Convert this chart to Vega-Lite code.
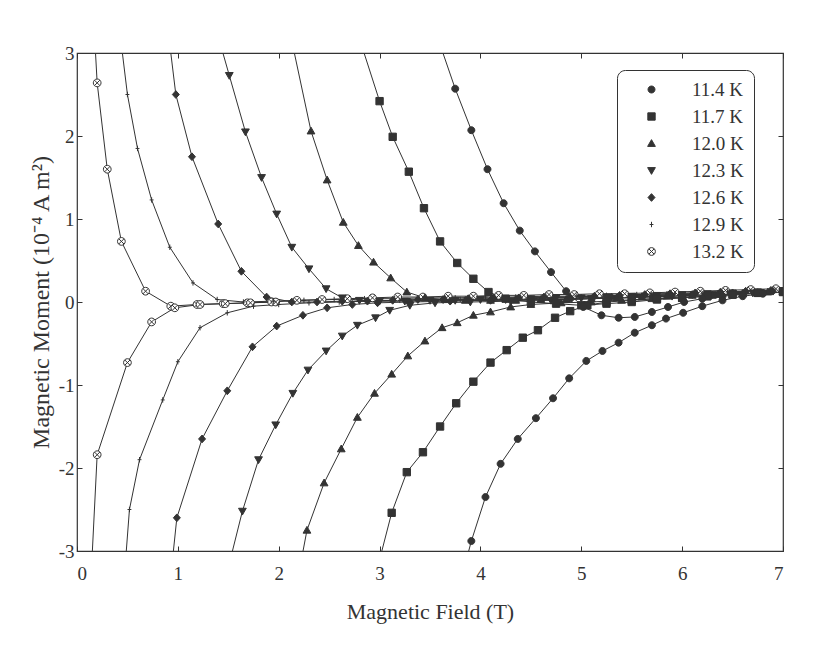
{
  "$schema": "https://vega.github.io/schema/vega-lite/v6.json",
  "width": 706,
  "height": 498,
  "autosize": {"type": "none"},
  "padding": {"left": 77, "top": 53, "right": 33, "bottom": 99},
  "background": "white",
  "config": {
    "view": {"stroke": "#333", "strokeWidth": 1.2},
    "font": "Liberation Serif",
    "axis": {"labelFont": "Liberation Serif", "titleFont": "Liberation Serif", "labelColor": "#333", "titleColor": "#333", "tickColor": "#333", "titleFontWeight": "normal", "grid": false, "domain": false},
    "legend": {"orient": "none", "legendX": 540, "legendY": 17, "labelFont": "Liberation Serif", "labelFontSize": 19, "labelColor": "#333",
               "symbolSize": 60, "symbolOffset": 15, "labelOffset": 31, "rowPadding": 7,
               "padding": 10, "strokeColor": "#333", "cornerRadius": 8, "fillColor": "white",
               "symbolStrokeColor": "#333", "symbolStrokeWidth": 1}
  },
  "data": {"values": [
    {"T":"13.2 K","branch":"down","B":0.17,"M":3.3},{"T":"13.2 K","branch":"down","B":0.2,"M":2.64},{"T":"13.2 K","branch":"down","B":0.3,"M":1.6},{"T":"13.2 K","branch":"down","B":0.44,"M":0.73},{"T":"13.2 K","branch":"down","B":0.68,"M":0.13},{"T":"13.2 K","branch":"down","B":0.93,"M":-0.05},{"T":"13.2 K","branch":"down","B":1.19,"M":-0.03},{"T":"13.2 K","branch":"down","B":1.45,"M":-0.02},{"T":"13.2 K","branch":"down","B":1.69,"M":-0.01},{"T":"13.2 K","branch":"down","B":1.93,"M":0.0},{"T":"13.2 K","branch":"down","B":2.18,"M":0.02},{"T":"13.2 K","branch":"down","B":2.43,"M":0.03},{"T":"13.2 K","branch":"down","B":2.68,"M":0.04},{"T":"13.2 K","branch":"down","B":2.93,"M":0.05},{"T":"13.2 K","branch":"down","B":3.18,"M":0.06},{"T":"13.2 K","branch":"down","B":3.43,"M":0.06},{"T":"13.2 K","branch":"down","B":3.68,"M":0.07},{"T":"13.2 K","branch":"down","B":3.93,"M":0.07},{"T":"13.2 K","branch":"down","B":4.18,"M":0.08},{"T":"13.2 K","branch":"down","B":4.43,"M":0.08},{"T":"13.2 K","branch":"down","B":4.68,"M":0.09},{"T":"13.2 K","branch":"down","B":4.93,"M":0.09},{"T":"13.2 K","branch":"down","B":5.18,"M":0.1},{"T":"13.2 K","branch":"down","B":5.43,"M":0.1},{"T":"13.2 K","branch":"down","B":5.68,"M":0.11},{"T":"13.2 K","branch":"down","B":5.93,"M":0.12},{"T":"13.2 K","branch":"down","B":6.18,"M":0.13},{"T":"13.2 K","branch":"down","B":6.43,"M":0.14},{"T":"13.2 K","branch":"down","B":6.68,"M":0.15},{"T":"13.2 K","branch":"down","B":6.93,"M":0.16},
    {"T":"13.2 K","branch":"up","B":0.14,"M":-3.3},{"T":"13.2 K","branch":"up","B":0.2,"M":-1.84},{"T":"13.2 K","branch":"up","B":0.5,"M":-0.73},{"T":"13.2 K","branch":"up","B":0.74,"M":-0.24},{"T":"13.2 K","branch":"up","B":0.97,"M":-0.07},{"T":"13.2 K","branch":"up","B":1.22,"M":-0.03},{"T":"13.2 K","branch":"up","B":1.47,"M":-0.02},{"T":"13.2 K","branch":"up","B":1.72,"M":-0.01},{"T":"13.2 K","branch":"up","B":1.97,"M":0.0},
    {"T":"12.9 K","branch":"down","B":0.42,"M":3.3},{"T":"12.9 K","branch":"down","B":0.5,"M":2.5},{"T":"12.9 K","branch":"down","B":0.6,"M":1.85},{"T":"12.9 K","branch":"down","B":0.74,"M":1.23},{"T":"12.9 K","branch":"down","B":0.92,"M":0.66},{"T":"12.9 K","branch":"down","B":1.15,"M":0.23},{"T":"12.9 K","branch":"down","B":1.39,"M":0.03},{"T":"12.9 K","branch":"down","B":1.65,"M":0.0},{"T":"12.9 K","branch":"down","B":1.95,"M":0.01},{"T":"12.9 K","branch":"down","B":2.25,"M":0.02},{"T":"12.9 K","branch":"down","B":2.55,"M":0.03},{"T":"12.9 K","branch":"down","B":2.85,"M":0.04},{"T":"12.9 K","branch":"down","B":3.15,"M":0.04},{"T":"12.9 K","branch":"down","B":3.45,"M":0.05},{"T":"12.9 K","branch":"down","B":3.75,"M":0.05},{"T":"12.9 K","branch":"down","B":4.05,"M":0.06},{"T":"12.9 K","branch":"down","B":4.35,"M":0.06},{"T":"12.9 K","branch":"down","B":4.65,"M":0.07},{"T":"12.9 K","branch":"down","B":4.95,"M":0.07},{"T":"12.9 K","branch":"down","B":5.25,"M":0.08},{"T":"12.9 K","branch":"down","B":5.55,"M":0.09},{"T":"12.9 K","branch":"down","B":5.85,"M":0.1},{"T":"12.9 K","branch":"down","B":6.15,"M":0.11},{"T":"12.9 K","branch":"down","B":6.45,"M":0.12},{"T":"12.9 K","branch":"down","B":6.75,"M":0.13},{"T":"12.9 K","branch":"down","B":7.0,"M":0.14},
    {"T":"12.9 K","branch":"up","B":0.47,"M":-3.3},{"T":"12.9 K","branch":"up","B":0.52,"M":-2.5},{"T":"12.9 K","branch":"up","B":0.62,"M":-1.9},{"T":"12.9 K","branch":"up","B":0.85,"M":-1.18},{"T":"12.9 K","branch":"up","B":1.0,"M":-0.72},{"T":"12.9 K","branch":"up","B":1.22,"M":-0.31},{"T":"12.9 K","branch":"up","B":1.49,"M":-0.13},{"T":"12.9 K","branch":"up","B":1.75,"M":-0.05},{"T":"12.9 K","branch":"up","B":2.0,"M":-0.03},{"T":"12.9 K","branch":"up","B":2.3,"M":-0.01},{"T":"12.9 K","branch":"up","B":2.6,"M":0.0},{"T":"12.9 K","branch":"up","B":3.2,"M":0.02},{"T":"12.9 K","branch":"up","B":3.8,"M":0.03},{"T":"12.9 K","branch":"up","B":4.4,"M":0.05},{"T":"12.9 K","branch":"up","B":5.0,"M":0.06},{"T":"12.9 K","branch":"up","B":5.6,"M":0.08},{"T":"12.9 K","branch":"up","B":6.2,"M":0.1},{"T":"12.9 K","branch":"up","B":6.8,"M":0.12},{"T":"12.9 K","branch":"up","B":7.0,"M":0.13},
    {"T":"12.6 K","branch":"down","B":0.9,"M":3.3},{"T":"12.6 K","branch":"down","B":0.98,"M":2.5},{"T":"12.6 K","branch":"down","B":1.14,"M":1.75},{"T":"12.6 K","branch":"down","B":1.4,"M":0.94},{"T":"12.6 K","branch":"down","B":1.63,"M":0.37},{"T":"12.6 K","branch":"down","B":1.88,"M":0.06},{"T":"12.6 K","branch":"down","B":2.13,"M":0.0},{"T":"12.6 K","branch":"down","B":2.38,"M":0.0},{"T":"12.6 K","branch":"down","B":2.63,"M":0.01},{"T":"12.6 K","branch":"down","B":2.88,"M":0.01},{"T":"12.6 K","branch":"down","B":3.13,"M":0.02},{"T":"12.6 K","branch":"down","B":3.38,"M":0.03},{"T":"12.6 K","branch":"down","B":3.63,"M":0.03},{"T":"12.6 K","branch":"down","B":3.88,"M":0.04},{"T":"12.6 K","branch":"down","B":4.13,"M":0.05},{"T":"12.6 K","branch":"down","B":4.38,"M":0.05},{"T":"12.6 K","branch":"down","B":4.63,"M":0.06},{"T":"12.6 K","branch":"down","B":4.88,"M":0.06},{"T":"12.6 K","branch":"down","B":5.13,"M":0.07},{"T":"12.6 K","branch":"down","B":5.38,"M":0.08},{"T":"12.6 K","branch":"down","B":5.63,"M":0.09},{"T":"12.6 K","branch":"down","B":5.88,"M":0.1},{"T":"12.6 K","branch":"down","B":6.13,"M":0.11},{"T":"12.6 K","branch":"down","B":6.38,"M":0.12},{"T":"12.6 K","branch":"down","B":6.63,"M":0.13},{"T":"12.6 K","branch":"down","B":6.88,"M":0.14},
    {"T":"12.6 K","branch":"up","B":0.93,"M":-3.3},{"T":"12.6 K","branch":"up","B":0.99,"M":-2.6},{"T":"12.6 K","branch":"up","B":1.24,"M":-1.65},{"T":"12.6 K","branch":"up","B":1.49,"M":-1.07},{"T":"12.6 K","branch":"up","B":1.74,"M":-0.54},{"T":"12.6 K","branch":"up","B":1.98,"M":-0.29},{"T":"12.6 K","branch":"up","B":2.24,"M":-0.16},{"T":"12.6 K","branch":"up","B":2.48,"M":-0.07},{"T":"12.6 K","branch":"up","B":2.73,"M":-0.03},{"T":"12.6 K","branch":"up","B":2.98,"M":-0.01},{"T":"12.6 K","branch":"up","B":3.3,"M":0.0},{"T":"12.6 K","branch":"up","B":3.7,"M":0.01},{"T":"12.6 K","branch":"up","B":4.1,"M":0.02},{"T":"12.6 K","branch":"up","B":4.5,"M":0.03},{"T":"12.6 K","branch":"up","B":4.9,"M":0.04},{"T":"12.6 K","branch":"up","B":5.3,"M":0.06},{"T":"12.6 K","branch":"up","B":5.7,"M":0.07},{"T":"12.6 K","branch":"up","B":6.1,"M":0.09},{"T":"12.6 K","branch":"up","B":6.5,"M":0.11},{"T":"12.6 K","branch":"up","B":6.9,"M":0.13},
    {"T":"12.3 K","branch":"down","B":1.4,"M":3.2},{"T":"12.3 K","branch":"down","B":1.51,"M":2.73},{"T":"12.3 K","branch":"down","B":1.67,"M":2.05},{"T":"12.3 K","branch":"down","B":1.83,"M":1.5},{"T":"12.3 K","branch":"down","B":1.98,"M":1.06},{"T":"12.3 K","branch":"down","B":2.13,"M":0.66},{"T":"12.3 K","branch":"down","B":2.3,"M":0.4},{"T":"12.3 K","branch":"down","B":2.47,"M":0.16},{"T":"12.3 K","branch":"down","B":2.63,"M":0.05},{"T":"12.3 K","branch":"down","B":2.8,"M":0.02},{"T":"12.3 K","branch":"down","B":3.0,"M":0.01},{"T":"12.3 K","branch":"down","B":3.25,"M":0.01},{"T":"12.3 K","branch":"down","B":3.5,"M":0.02},{"T":"12.3 K","branch":"down","B":3.75,"M":0.02},{"T":"12.3 K","branch":"down","B":4.0,"M":0.03},{"T":"12.3 K","branch":"down","B":4.25,"M":0.03},{"T":"12.3 K","branch":"down","B":4.5,"M":0.04},{"T":"12.3 K","branch":"down","B":4.75,"M":0.05},{"T":"12.3 K","branch":"down","B":5.0,"M":0.05},{"T":"12.3 K","branch":"down","B":5.25,"M":0.06},{"T":"12.3 K","branch":"down","B":5.5,"M":0.07},{"T":"12.3 K","branch":"down","B":5.75,"M":0.08},{"T":"12.3 K","branch":"down","B":6.0,"M":0.09},{"T":"12.3 K","branch":"down","B":6.25,"M":0.1},{"T":"12.3 K","branch":"down","B":6.5,"M":0.11},{"T":"12.3 K","branch":"down","B":6.75,"M":0.12},{"T":"12.3 K","branch":"down","B":7.0,"M":0.13},
    {"T":"12.3 K","branch":"up","B":1.5,"M":-3.2},{"T":"12.3 K","branch":"up","B":1.64,"M":-2.52},{"T":"12.3 K","branch":"up","B":1.8,"M":-1.9},{"T":"12.3 K","branch":"up","B":1.97,"M":-1.48},{"T":"12.3 K","branch":"up","B":2.14,"M":-1.1},{"T":"12.3 K","branch":"up","B":2.29,"M":-0.82},{"T":"12.3 K","branch":"up","B":2.47,"M":-0.59},{"T":"12.3 K","branch":"up","B":2.63,"M":-0.41},{"T":"12.3 K","branch":"up","B":2.78,"M":-0.28},{"T":"12.3 K","branch":"up","B":2.96,"M":-0.19},{"T":"12.3 K","branch":"up","B":3.1,"M":-0.1},{"T":"12.3 K","branch":"up","B":3.3,"M":-0.04},{"T":"12.3 K","branch":"up","B":3.55,"M":-0.01},{"T":"12.3 K","branch":"up","B":3.9,"M":0.0},{"T":"12.3 K","branch":"up","B":4.3,"M":0.01},{"T":"12.3 K","branch":"up","B":4.7,"M":0.02},{"T":"12.3 K","branch":"up","B":5.1,"M":0.04},{"T":"12.3 K","branch":"up","B":5.5,"M":0.05},{"T":"12.3 K","branch":"up","B":5.9,"M":0.07},{"T":"12.3 K","branch":"up","B":6.3,"M":0.09},{"T":"12.3 K","branch":"up","B":6.7,"M":0.11},{"T":"12.3 K","branch":"up","B":7.0,"M":0.12},
    {"T":"12.0 K","branch":"down","B":2.12,"M":3.2},{"T":"12.0 K","branch":"down","B":2.32,"M":2.06},{"T":"12.0 K","branch":"down","B":2.48,"M":1.47},{"T":"12.0 K","branch":"down","B":2.64,"M":0.96},{"T":"12.0 K","branch":"down","B":2.79,"M":0.68},{"T":"12.0 K","branch":"down","B":2.94,"M":0.48},{"T":"12.0 K","branch":"down","B":3.11,"M":0.29},{"T":"12.0 K","branch":"down","B":3.27,"M":0.12},{"T":"12.0 K","branch":"down","B":3.45,"M":0.05},{"T":"12.0 K","branch":"down","B":3.65,"M":0.03},{"T":"12.0 K","branch":"down","B":3.85,"M":0.02},{"T":"12.0 K","branch":"down","B":4.1,"M":0.02},{"T":"12.0 K","branch":"down","B":4.35,"M":0.02},{"T":"12.0 K","branch":"down","B":4.6,"M":0.03},{"T":"12.0 K","branch":"down","B":4.85,"M":0.03},{"T":"12.0 K","branch":"down","B":5.1,"M":0.04},{"T":"12.0 K","branch":"down","B":5.35,"M":0.05},{"T":"12.0 K","branch":"down","B":5.6,"M":0.06},{"T":"12.0 K","branch":"down","B":5.85,"M":0.07},{"T":"12.0 K","branch":"down","B":6.1,"M":0.08},{"T":"12.0 K","branch":"down","B":6.35,"M":0.09},{"T":"12.0 K","branch":"down","B":6.6,"M":0.1},{"T":"12.0 K","branch":"down","B":6.85,"M":0.12},{"T":"12.0 K","branch":"down","B":7.0,"M":0.13},
    {"T":"12.0 K","branch":"up","B":2.21,"M":-3.2},{"T":"12.0 K","branch":"up","B":2.28,"M":-2.75},{"T":"12.0 K","branch":"up","B":2.45,"M":-2.18},{"T":"12.0 K","branch":"up","B":2.62,"M":-1.77},{"T":"12.0 K","branch":"up","B":2.78,"M":-1.39},{"T":"12.0 K","branch":"up","B":2.95,"M":-1.1},{"T":"12.0 K","branch":"up","B":3.12,"M":-0.87},{"T":"12.0 K","branch":"up","B":3.28,"M":-0.65},{"T":"12.0 K","branch":"up","B":3.45,"M":-0.47},{"T":"12.0 K","branch":"up","B":3.62,"M":-0.31},{"T":"12.0 K","branch":"up","B":3.77,"M":-0.25},{"T":"12.0 K","branch":"up","B":3.93,"M":-0.16},{"T":"12.0 K","branch":"up","B":4.1,"M":-0.12},{"T":"12.0 K","branch":"up","B":4.3,"M":-0.06},{"T":"12.0 K","branch":"up","B":4.5,"M":-0.03},{"T":"12.0 K","branch":"up","B":4.8,"M":-0.01},{"T":"12.0 K","branch":"up","B":5.1,"M":0.0},{"T":"12.0 K","branch":"up","B":5.4,"M":0.02},{"T":"12.0 K","branch":"up","B":5.7,"M":0.04},{"T":"12.0 K","branch":"up","B":6.0,"M":0.06},{"T":"12.0 K","branch":"up","B":6.3,"M":0.08},{"T":"12.0 K","branch":"up","B":6.6,"M":0.1},{"T":"12.0 K","branch":"up","B":7.0,"M":0.12},
    {"T":"11.7 K","branch":"down","B":2.82,"M":3.1},{"T":"11.7 K","branch":"down","B":3.0,"M":2.42},{"T":"11.7 K","branch":"down","B":3.13,"M":1.99},{"T":"11.7 K","branch":"down","B":3.29,"M":1.57},{"T":"11.7 K","branch":"down","B":3.44,"M":1.13},{"T":"11.7 K","branch":"down","B":3.6,"M":0.73},{"T":"11.7 K","branch":"down","B":3.77,"M":0.47},{"T":"11.7 K","branch":"down","B":3.93,"M":0.28},{"T":"11.7 K","branch":"down","B":4.08,"M":0.12},{"T":"11.7 K","branch":"down","B":4.25,"M":0.04},{"T":"11.7 K","branch":"down","B":4.5,"M":0.0},{"T":"11.7 K","branch":"down","B":4.75,"M":-0.02},{"T":"11.7 K","branch":"down","B":5.0,"M":-0.04},{"T":"11.7 K","branch":"down","B":5.25,"M":-0.02},{"T":"11.7 K","branch":"down","B":5.5,"M":0.0},{"T":"11.7 K","branch":"down","B":5.75,"M":0.03},{"T":"11.7 K","branch":"down","B":6.0,"M":0.05},{"T":"11.7 K","branch":"down","B":6.25,"M":0.07},{"T":"11.7 K","branch":"down","B":6.5,"M":0.09},{"T":"11.7 K","branch":"down","B":6.75,"M":0.11},{"T":"11.7 K","branch":"down","B":7.0,"M":0.13},
    {"T":"11.7 K","branch":"up","B":2.98,"M":-3.2},{"T":"11.7 K","branch":"up","B":3.12,"M":-2.54},{"T":"11.7 K","branch":"up","B":3.27,"M":-2.05},{"T":"11.7 K","branch":"up","B":3.43,"M":-1.81},{"T":"11.7 K","branch":"up","B":3.6,"M":-1.5},{"T":"11.7 K","branch":"up","B":3.76,"M":-1.22},{"T":"11.7 K","branch":"up","B":3.93,"M":-0.96},{"T":"11.7 K","branch":"up","B":4.1,"M":-0.73},{"T":"11.7 K","branch":"up","B":4.26,"M":-0.58},{"T":"11.7 K","branch":"up","B":4.42,"M":-0.43},{"T":"11.7 K","branch":"up","B":4.57,"M":-0.34},{"T":"11.7 K","branch":"up","B":4.74,"M":-0.19},{"T":"11.7 K","branch":"up","B":4.89,"M":-0.11},{"T":"11.7 K","branch":"up","B":5.06,"M":-0.04},{"T":"11.7 K","branch":"up","B":5.25,"M":0.0},{"T":"11.7 K","branch":"up","B":5.5,"M":0.02},{"T":"11.7 K","branch":"up","B":5.75,"M":0.04},{"T":"11.7 K","branch":"up","B":6.0,"M":0.05},{"T":"11.7 K","branch":"up","B":6.25,"M":0.07},{"T":"11.7 K","branch":"up","B":6.5,"M":0.09},{"T":"11.7 K","branch":"up","B":6.75,"M":0.11},{"T":"11.7 K","branch":"up","B":7.0,"M":0.12},
    {"T":"11.4 K","branch":"down","B":3.6,"M":3.1},{"T":"11.4 K","branch":"down","B":3.75,"M":2.57},{"T":"11.4 K","branch":"down","B":3.91,"M":2.07},{"T":"11.4 K","branch":"down","B":4.07,"M":1.6},{"T":"11.4 K","branch":"down","B":4.23,"M":1.19},{"T":"11.4 K","branch":"down","B":4.39,"M":0.86},{"T":"11.4 K","branch":"down","B":4.54,"M":0.61},{"T":"11.4 K","branch":"down","B":4.7,"M":0.36},{"T":"11.4 K","branch":"down","B":4.85,"M":0.13},{"T":"11.4 K","branch":"down","B":5.02,"M":-0.06},{"T":"11.4 K","branch":"down","B":5.2,"M":-0.16},{"T":"11.4 K","branch":"down","B":5.37,"M":-0.19},{"T":"11.4 K","branch":"down","B":5.53,"M":-0.18},{"T":"11.4 K","branch":"down","B":5.7,"M":-0.12},{"T":"11.4 K","branch":"down","B":5.86,"M":-0.06},{"T":"11.4 K","branch":"down","B":6.02,"M":0.0},{"T":"11.4 K","branch":"down","B":6.2,"M":0.04},{"T":"11.4 K","branch":"down","B":6.4,"M":0.07},{"T":"11.4 K","branch":"down","B":6.6,"M":0.09},{"T":"11.4 K","branch":"down","B":6.8,"M":0.11},{"T":"11.4 K","branch":"down","B":7.0,"M":0.13},
    {"T":"11.4 K","branch":"up","B":3.84,"M":-3.2},{"T":"11.4 K","branch":"up","B":3.91,"M":-2.88},{"T":"11.4 K","branch":"up","B":4.05,"M":-2.35},{"T":"11.4 K","branch":"up","B":4.2,"M":-1.95},{"T":"11.4 K","branch":"up","B":4.37,"M":-1.65},{"T":"11.4 K","branch":"up","B":4.55,"M":-1.4},{"T":"11.4 K","branch":"up","B":4.72,"M":-1.16},{"T":"11.4 K","branch":"up","B":4.88,"M":-0.92},{"T":"11.4 K","branch":"up","B":5.05,"M":-0.71},{"T":"11.4 K","branch":"up","B":5.21,"M":-0.59},{"T":"11.4 K","branch":"up","B":5.37,"M":-0.49},{"T":"11.4 K","branch":"up","B":5.53,"M":-0.37},{"T":"11.4 K","branch":"up","B":5.7,"M":-0.28},{"T":"11.4 K","branch":"up","B":5.84,"M":-0.2},{"T":"11.4 K","branch":"up","B":6.01,"M":-0.13},{"T":"11.4 K","branch":"up","B":6.2,"M":-0.05},{"T":"11.4 K","branch":"up","B":6.4,"M":0.02},{"T":"11.4 K","branch":"up","B":6.6,"M":0.07},{"T":"11.4 K","branch":"up","B":6.8,"M":0.1},{"T":"11.4 K","branch":"up","B":7.0,"M":0.12}
  ]},
  "layer": [
    {
      "mark": {"type": "line", "stroke": "#333", "strokeWidth": 1, "clip": true},
      "encoding": {
        "x": {"field": "B", "type": "quantitative", "scale": {"domain": [0, 7], "nice": false, "zero": false},
              "axis": {"orient": "top", "values": [0,1,2,3,4,5,6,7], "labels": false, "title": null, "tickSize": -5}},
        "y": {"field": "M", "type": "quantitative", "scale": {"domain": [-3, 3], "nice": false, "zero": false},
              "axis": {"orient": "right", "values": [-3,-2,-1,0,1,2,3], "labels": false, "title": null, "tickSize": -5}},
        "detail": [{"field": "T"}, {"field": "branch"}]
      }
    },
    {
      "mark": {"type": "point", "filled": true, "strokeWidth": 1, "size": 60, "opacity": 1, "clip": true},
      "encoding": {
        "x": {"field": "B", "type": "quantitative",
              "axis": {"orient": "bottom", "values": [0,1,2,3,4,5,6,7], "title": "Magnetic Field (T)", "tickSize": -5, "labelPadding": 18, "labelFontSize": 19, "titleFontSize": 22, "titlePadding": 18}},
        "y": {"field": "M", "type": "quantitative",
              "axis": {"orient": "left", "values": [-3,-2,-1,0,1,2,3], "title": "Magnetic Moment (10⁻⁴ A m²)", "tickSize": -5, "labelPadding": 8, "labelFontSize": 19, "titleFontSize": 24, "titlePadding": 5, "labelExpr": "'' + datum.value"}},
        "shape": {"field": "T", "type": "nominal",
                  "scale": {"domain": ["11.4 K","11.7 K","12.0 K","12.3 K","12.6 K","12.9 K","13.2 K"],
                            "range": ["M0.9,0A0.9,0.9,0,1,1,-0.9,0A0.9,0.9,0,1,1,0.9,0Z",
                                      "M-0.95,-0.95L0.95,-0.95L0.95,0.95L-0.95,0.95Z",
                                      "M0,-1L1,0.75L-1,0.75Z",
                                      "M0,1L1,-0.75L-1,-0.75Z",
                                      "M0,-1L0.9,0L0,1L-0.9,0Z",
                                      "M-0.5,0L0.5,0M0,-0.7L0,0.7",
                                      "M1,0A1,1,0,1,1,-1,0A1,1,0,1,1,1,0Z M-0.7,-0.7L0.7,0.7M-0.7,0.7L0.7,-0.7"]},
                  "legend": {"title": null}},
        "fill": {"field": "T", "type": "nominal",
                 "scale": {"domain": ["11.4 K","11.7 K","12.0 K","12.3 K","12.6 K","12.9 K","13.2 K"],
                           "range": ["#333","#333","#333","#333","#333","#333","#fff"]},
                 "legend": {"title": null}},
        "stroke": {"field": "T", "type": "nominal",
                 "scale": {"domain": ["11.4 K","11.7 K","12.0 K","12.3 K","12.6 K","12.9 K","13.2 K"],
                           "range": ["#333","#333","#333","#333","#333","#333","#333"]},
                 "legend": {"title": null}}
      }
    }
  ],
  "resolve": {"axis": {"x": "independent", "y": "independent"}}
}
